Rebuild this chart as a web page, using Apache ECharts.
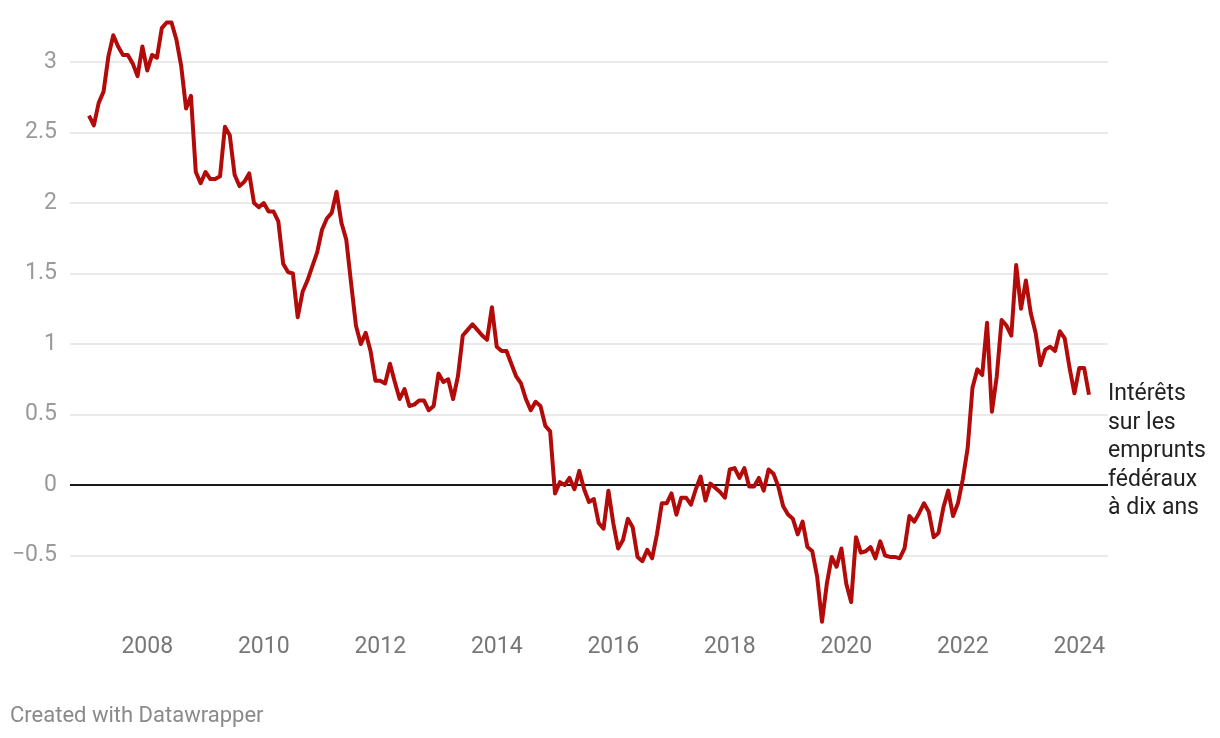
<!DOCTYPE html>
<html>
<head>
<meta charset="utf-8">
<script src="https://cdn.jsdelivr.net/npm/echarts@6/dist/echarts.min.js"></script>
<style>
  html, body { margin: 0; padding: 0; background: #fff; }
  #chart { width: 1220px; height: 738px; }
</style>
</head>
<body>
<div id="chart"></div>
<script>
// Monthly series, first value = January 2007, last = March 2024
const startYear = 2007;
const startMonth = 1;
const yields = [
  2.62, 2.55, 2.71, 2.79, 3.04, 3.19, 3.11, 3.05, 3.05, 2.99, 2.90, 3.11,
  2.94, 3.05, 3.03, 3.24, 3.28, 3.28, 3.16, 2.97, 2.67, 2.76, 2.22, 2.14,
  2.22, 2.17, 2.17, 2.19, 2.54, 2.48, 2.20, 2.12, 2.15, 2.21, 2.00, 1.97,
  2.00, 1.94, 1.94, 1.87, 1.57, 1.51, 1.50, 1.19, 1.37, 1.45, 1.55, 1.65,
  1.81, 1.89, 1.93, 2.08, 1.86, 1.74, 1.43, 1.13, 1.00, 1.08, 0.95, 0.74,
  0.74, 0.72, 0.86, 0.73, 0.61, 0.68, 0.56, 0.57, 0.60, 0.60, 0.53, 0.56,
  0.79, 0.73, 0.75, 0.61, 0.77, 1.06, 1.10, 1.14, 1.10, 1.06, 1.03, 1.26,
  0.98, 0.95, 0.95, 0.86, 0.77, 0.72, 0.61, 0.53, 0.59, 0.56, 0.42, 0.38,
  -0.06, 0.02, 0.00, 0.05, -0.03, 0.10, -0.03, -0.12, -0.10, -0.27, -0.31, -0.04,
  -0.27, -0.45, -0.39, -0.24, -0.30, -0.51, -0.54, -0.46, -0.52, -0.35, -0.13, -0.13,
  -0.06, -0.21, -0.09, -0.09, -0.14, -0.03, 0.06, -0.11, 0.01, -0.02, -0.05, -0.09,
  0.11, 0.12, 0.05, 0.12, -0.01, -0.01, 0.05, -0.04, 0.11, 0.08, -0.01, -0.15,
  -0.21, -0.24, -0.35, -0.26, -0.44, -0.47, -0.65, -0.97, -0.70, -0.51, -0.58, -0.45,
  -0.70, -0.83, -0.37, -0.48, -0.47, -0.44, -0.52, -0.40, -0.50, -0.51, -0.51, -0.52,
  -0.45, -0.22, -0.26, -0.20, -0.13, -0.19, -0.37, -0.34, -0.16, -0.04, -0.22, -0.13,
  0.04, 0.26, 0.69, 0.82, 0.78, 1.15, 0.52, 0.77, 1.17, 1.13, 1.06, 1.56,
  1.25, 1.45, 1.22, 1.08, 0.85, 0.96, 0.98, 0.95, 1.09, 1.04, 0.83, 0.65,
  0.83, 0.83, 0.64
];
const xTickYears = [2008, 2010, 2012, 2014, 2016, 2018, 2020, 2022, 2024];
const yTickValues = [-0.5, 0, 0.5, 1, 1.5, 2, 2.5, 3];
const seriesLabel = 'Intérêts\nsur les\nemprunts\nfédéraux\nà dix ans';
const footerText = 'Created with Datawrapper';

const points = yields.map((v, i) => [startYear + (startMonth - 1 + i) / 12, v]);

const chart = echarts.init(document.getElementById('chart'), null, { renderer: 'canvas' });
const FONT = 'Roboto';

chart.setOption({
  animation: false,
  backgroundColor: '#ffffff',
  textStyle: { fontFamily: FONT },
  grid: { left: 70, right: 112, top: 5.6, bottom: 112, containLabel: false },
  xAxis: {
    type: 'value',
    min: 2006.674,
    max: 2024.493,
    axisLine: { show: false },
    axisTick: { show: false },
    splitLine: { show: false },
    axisLabel: {
      customValues: xTickYears,
      formatter: v => String(v),
      color: '#777777',
      fontSize: 23,
      fontFamily: FONT,
      margin: 10
    }
  },
  yAxis: {
    type: 'value',
    min: -1,
    max: 3.4,
    interval: 0.5,
    axisLine: { show: false },
    axisTick: { show: false },
    axisLabel: {
      showMinLabel: false,
      showMaxLabel: false,
      formatter: v => (yTickValues.indexOf(v) >= 0 ? String(v).replace('-', '\u2212') : ''),
      color: '#9a9a9a',
      fontSize: 23,
      fontFamily: FONT,
      margin: 13
    },
    splitLine: {
      show: true,
      showMinLine: false,
      showMaxLine: false,
      lineStyle: { color: '#e3e3e3', width: 1.5 }
    }
  },
  series: [{
    type: 'line',
    data: points,
    showSymbol: false,
    symbol: 'none',
    lineStyle: { color: '#b30a0a', width: 4, join: 'round' },
    z: 5,
    markLine: {
      silent: true,
      symbol: 'none',
      label: { show: false },
      lineStyle: { color: '#1a1a1a', width: 2, type: 'solid' },
      data: [{ yAxis: 0 }],
      z: 3
    }
  }],
  graphic: [
    {
      type: 'text',
      left: 1108,
      top: 380,
      style: {
        text: seriesLabel,
        fill: '#222222',
        font: '23px Roboto',
        lineHeight: 28.5
      }
    },
    {
      type: 'text',
      left: 10,
      top: 703,
      style: {
        text: footerText,
        fill: '#8a8a8a',
        font: '22px Roboto',
        lineHeight: 26
      }
    }
  ]
});
</script>
</body>
</html>
